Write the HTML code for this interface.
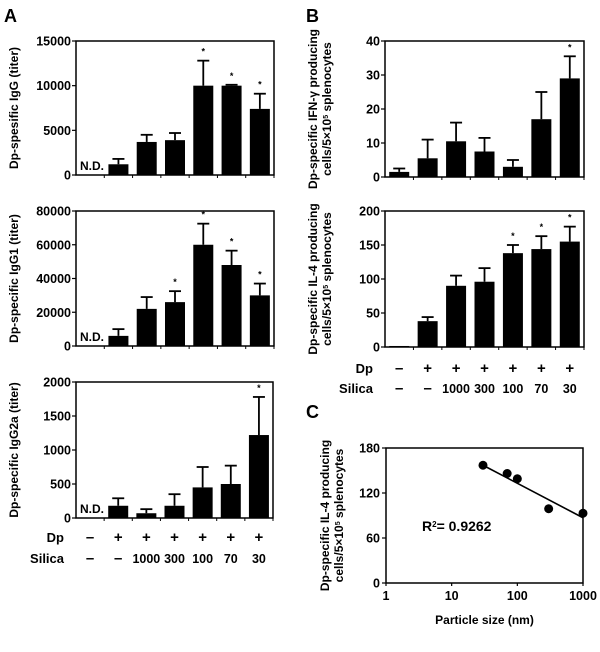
<!DOCTYPE html>
<html><head><meta charset="utf-8"><style>
body{margin:0;background:#fff;}
svg{display:block;font-family:"Liberation Sans",Arial,sans-serif;}
text{font-weight:bold;fill:#000;}
</style></head><body>
<svg id="fig" width="600" height="652" viewBox="0 0 600 652" xmlns="http://www.w3.org/2000/svg"></svg>
<script>
const groupsDp = ["–","+","+","+","+","+","+"];
const groupsSilica = ["–","–","1000","300","100","70","30"];
const iggVals = [0,1200,3700,3900,10000,10000,7400];
const iggErr = [null,1800,4500,4700,12800,10100,9100];
const iggStar = [0,0,0,0,1,1,1];
const igg1Vals = [0,6000,22000,26000,60000,48000,30000];
const igg1Err = [null,10000,29000,32500,72500,56500,37000];
const igg1Star = [0,0,0,1,1,1,1];
const igg2aVals = [0,180,70,180,450,500,1220];
const igg2aErr = [null,290,130,350,750,770,1780];
const igg2aStar = [0,0,0,0,0,0,1];
const ifnVals = [1.5,5.5,10.5,7.5,3,17,29];
const ifnErr = [2.5,11,16,11.5,5,25,35.5];
const ifnStar = [0,0,0,0,0,0,1];
const il4Vals = [1.5,38,90,96,138,144,155];
const il4Err = [null,44,105,116,150,163,177];
const il4Star = [0,0,0,0,1,1,1];
const sizeX = [30,70,100,300,1000];
const sizeY = [157,146,139,99,93];
const fitLine = [[30,157],[1000,87]];

const NS="http://www.w3.org/2000/svg";
const svg=document.getElementById('fig');
function el(tag,attrs,parent,txt){const e=document.createElementNS(NS,tag);for(const k in attrs)e.setAttribute(k,attrs[k]);if(txt!==undefined)e.textContent=txt;(parent||svg).appendChild(e);return e;}

function barChart(name,x0,x1,yTop,yBot,max,ticks,vals,errs,stars,title,nd){
  const g=el('g',{},svg);
  
  
  const n=vals.length, slot=(x1-x0)/n;
  const ys=v=>yBot-(v/max)*(yBot-yTop);
  vals.forEach((v,i)=>{
    const cx=x0+slot*(i+0.5), bw=20;
    if(v>0){
      const r=el('rect',{x:cx-bw/2,y:ys(v),width:bw,height:yBot-ys(v),fill:'#000'},g);
      
      
    }
    if(errs[i]!=null){
      el('line',{x1:cx,x2:cx,y1:ys(v),y2:ys(errs[i]),stroke:'#000','stroke-width':1.8},g);
      el('line',{x1:cx-6,x2:cx+6,y1:ys(errs[i]),y2:ys(errs[i]),stroke:'#000','stroke-width':1.8},g);
    }
    if(stars[i]){
      const s=el('text',{x:cx,y:ys(errs[i]!=null?errs[i]:v)-6,'text-anchor':'middle','font-size':9,'font-weight':'normal'},g,'*');
      
      
    }
  });
  el('path',{d:`M${x0} ${yTop}H${x1}V${yBot}H${x0}Z`,fill:'none',stroke:'#000','stroke-width':1.5},g);
  for(let i=1;i<=n;i++)el('line',{x1:x0+slot*i,x2:x0+slot*i,y1:yBot,y2:yBot+3,stroke:'#000','stroke-width':1},g);
  ticks.forEach(t=>{
    el('line',{x1:x0-4,x2:x0,y1:ys(t),y2:ys(t),stroke:'#000','stroke-width':1.2},g);
    const tl=el('text',{x:x0-5,y:ys(t)+4.5,'text-anchor':'end','font-size':12.5},g,String(t));
    
    
  });
  if(nd){const t=el('text',{x:x0+4,y:yBot-5,'font-size':12,'font-weight':'normal'},g,'N.D.');}
  const cy=(yTop+yBot)/2;
  if(title.length===1){
    const t=el('text',{x:0,y:0,transform:`translate(${x0-58},${cy}) rotate(-90)`,'text-anchor':'middle','font-size':12},g,title[0]);
    
  } else {
    title.forEach((s,k)=>{
      const t=el('text',{x:0,y:0,transform:`translate(${x0-68+k*14},${cy}) rotate(-90)`,'text-anchor':'middle','font-size':12},g);
      t.innerHTML=s;
      
    });
  }
  return slot;
}
function groupLabels(name,x0,x1,yDp,ySi){
  const g=el('g',{},svg);
  
  
  const slot=(x1-x0)/7;
  el('text',{x:x0-12,y:yDp,'text-anchor':'end','font-size':13},g,'Dp');
  el('text',{x:x0-12,y:ySi,'text-anchor':'end','font-size':13},g,'Silica');
  groupsDp.forEach((s,i)=>el('text',{x:x0+slot*(i+0.5),y:yDp,'text-anchor':'middle','font-size':15},g,s));
  groupsSilica.forEach((s,i)=>el('text',{x:x0+slot*(i+0.5),y:ySi,'text-anchor':'middle','font-size':s.length===1?15:12.5},g,s));
}
function label(t,x,y){const e=el('text',{x:x,y:y,'font-size':18},svg,t);}

label('A',4,22);label('B',306,22);label('C',306,418);
barChart('chart-igg',76,274,41,175,15000,[0,5000,10000,15000],iggVals,iggErr,iggStar,['Dp-spesific IgG (titer)'],true);
barChart('chart-igg1',76,274,211,346,80000,[0,20000,40000,60000,80000],igg1Vals,igg1Err,igg1Star,['Dp-specific IgG1 (titer)'],true);
barChart('chart-igg2a',76,273,382,518,2000,[0,500,1000,1500,2000],igg2aVals,igg2aErr,igg2aStar,['Dp-specific IgG2a (titer)'],true);
groupLabels('group-labels-a',76,273,542,563);
const sup='cells/5×10<tspan baseline-shift="super" font-size="7">5</tspan> splenocytes';
barChart('chart-ifn',385,584,41,177,40,[0,10,20,30,40],ifnVals,ifnErr,ifnStar,['Dp-specific IFN-γ producing',sup],false);
barChart('chart-il4',385,584,211,347,200,[0,50,100,150,200],il4Vals,il4Err,il4Star,['Dp-specific IL-4 producing',sup],false);
groupLabels('group-labels-b',385,584,373,393);

(function(){
  const g=el('g',{},svg);
  
  
  const x0=386,x1=583,yTop=448,yBot=583;
  const xs=v=>x0+Math.log10(v)/3*(x1-x0);
  const ys=v=>yBot-v/180*(yBot-yTop);
  el('path',{d:`M${x0} ${yTop}H${x1}V${yBot}H${x0}Z`,fill:'none',stroke:'#000','stroke-width':1.5},g);
  [0,60,120,180].forEach(t=>{
    el('line',{x1:x0-4,x2:x0,y1:ys(t),y2:ys(t),stroke:'#000','stroke-width':1.2},g);
    el('text',{x:x0-6,y:ys(t)+4.5,'text-anchor':'end','font-size':12.5},g,String(t));
  });
  [1,10,100,1000].forEach(t=>{
    el('line',{x1:xs(t),x2:xs(t),y1:yBot,y2:yBot+3,stroke:'#000','stroke-width':1.2},g);
    el('text',{x:xs(t),y:yBot+17,'text-anchor':'middle','font-size':12.5},g,String(t));
  });
  const ln=el('line',{x1:xs(fitLine[0][0]),y1:ys(fitLine[0][1]),x2:xs(fitLine[1][0]),y2:ys(fitLine[1][1]),stroke:'#000','stroke-width':1.6},g);
  
  
  sizeX.forEach((x,i)=>{
    const c=el('circle',{cx:xs(x),cy:ys(sizeY[i]),r:4.5,fill:'#000'},g);
    
    
  });
  const r=el('text',{x:422,y:531,'font-size':14},g);
  r.innerHTML='R<tspan baseline-shift="super" font-size="8">2</tspan>= 0.9262';
  
  const xt=el('text',{x:(x0+x1)/2,y:624,'text-anchor':'middle','font-size':12},g,'Particle size (nm)');
  
  ['Dp-specific IL-4 producing',sup].forEach((s,k)=>{
    const t=el('text',{x:0,y:0,transform:`translate(${x0-57+k*14},${(yTop+yBot)/2}) rotate(-90)`,'text-anchor':'middle','font-size':12},g);
    t.innerHTML=s;
    
  });
})();
</script>
</body></html>
